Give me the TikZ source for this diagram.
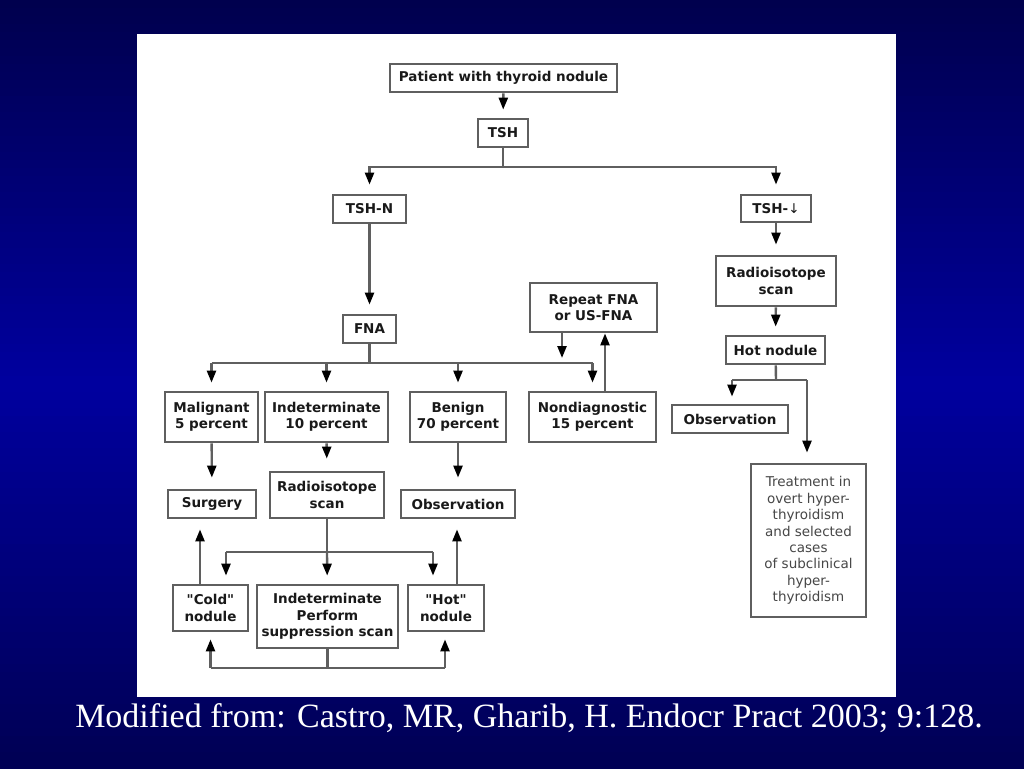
\documentclass[tikz,border=0pt]{standalone}
\usepackage{fontspec}
\usetikzlibrary{arrows.meta}
\newfontfamily\dvs{DejaVu Sans}
\newfontfamily\lserif{Liberation Serif}
\definecolor{bgtop}{RGB}{0,0,78}
\definecolor{bgmid}{RGB}{0,0,158}
\definecolor{bgbot}{RGB}{0,0,84}
\definecolor{edgegray}{RGB}{95,95,95}
\definecolor{txtgray}{RGB}{25,25,25}
\tikzset{
  box/.style={draw=edgegray, line width=2.8pt, rectangle, inner sep=0pt, align=center,
    font=\dvs\bfseries\fontsize{13.5}{16.5}\selectfont, text=txtgray},
  plainbox/.style={box, font=\dvs\fontsize{13.5}{16.4}\selectfont, text=black!72},
  conn/.style={draw=edgegray, line width=2.4pt},
  arr/.style={conn, -{Triangle[length=12pt,width=9pt,color=black]}, shorten >=8pt},
}
\begin{document}
\begin{tikzpicture}[x=1pt,y=-1pt]
\useasboundingbox (0,0) rectangle (1024,768);
% background gradient (dark - bright - dark), drawn as stripes
\foreach \i in {0,...,47}{
  \pgfmathtruncatemacro{\p}{round(\i*100/47)}
  \fill[bgmid!\p!bgtop] (0,{8*\i}) rectangle (1024,{8*\i+8.6});
}
\foreach \i in {0,...,47}{
  \pgfmathtruncatemacro{\p}{round(\i*100/47)}
  \fill[bgbot!\p!bgmid] (0,{384+8*\i}) rectangle (1024,{384+8*\i+8.6});
}
\fill[white] (137,34) rectangle (896,697);

% nodes
\node[box, minimum width=227pt, minimum height=28pt] (pat) at (503.5,78) {Patient with thyroid nodule};
\node[box, minimum width=50pt, minimum height=28pt] (tsh) at (503,133) {TSH};
\node[box, minimum width=73pt, minimum height=28pt] (tshn) at (369.5,209) {TSH-N};
\node[box, minimum width=70pt, minimum height=27pt] (tshd) at (776,208.5) {TSH-{\mdseries↓}};
\node[box, minimum width=53pt, minimum height=28pt] (fna) at (369.5,329) {FNA};
\node[box, minimum width=127pt, minimum height=49pt] (rep) at (593.5,307.5) {Repeat FNA\\or US-FNA};
\node[box, minimum width=93pt, minimum height=50pt] (mal) at (211.5,417) {Malignant\\5 percent};
\node[box, minimum width=123pt, minimum height=50pt] (ind) at (326.5,417) {Indeterminate\\10 percent};
\node[box, minimum width=96pt, minimum height=50pt] (ben) at (458,417) {Benign\\70 percent};
\node[box, minimum width=127pt, minimum height=50pt] (nd) at (592.5,417) {Nondiagnostic\\15 percent};
\node[box, minimum width=88pt, minimum height=28pt] (surg) at (212,504) {Surgery};
\node[box, minimum width=114pt, minimum height=46pt] (rad2) at (327,495) {Radioisotope\\scan};
\node[box, minimum width=114pt, minimum height=28pt] (obs2) at (458,504) {Observation};
\node[box, minimum width=75pt, minimum height=46pt] (cold) at (210.5,608) {"Cold"\\nodule};
\node[box, minimum width=141pt, minimum height=63pt] (ind2) at (327.5,616.5) {Indeterminate\\Perform\\suppression scan};
\node[box, minimum width=76pt, minimum height=46pt] (hot) at (446,608) {"Hot"\\nodule};
\node[box, minimum width=120pt, minimum height=50pt] (rad1) at (776,281) {Radioisotope\\scan};
\node[box, minimum width=99pt, minimum height=28pt] (hot1) at (775.5,350) {Hot nodule};
\node[box, minimum width=116pt, minimum height=28pt] (obs1) at (730,419) {Observation};
\node[plainbox, minimum width=115pt, minimum height=153pt] (treat) at (808.5,540.5) {Treatment in\\overt hyper-\\thyroidism\\and selected\\cases\\of subclinical\\hyper-\\thyroidism};

% caption
\node[anchor=base, text=white, font=\lserif\fontsize{34}{40}\selectfont, inner sep=0pt] (cap) at (529,727) {Modified from: Castro, MR, Gharib, H. Endocr Pract 2003; 9:128.};

% junction coordinates
\coordinate (j1) at (503,167);
\coordinate (j2) at (369.5,363);
\coordinate (j3) at (327,552);
\coordinate (jl) at (226,552);
\coordinate (jr) at (433,552);
\coordinate (jb) at (327.5,668);
\coordinate (jbl) at (210.5,668);
\coordinate (jbr) at (445,668);
\coordinate (jh) at (776,380);
\coordinate (jhl) at (732,380);
\coordinate (jhr) at (807,380);

% top
\draw[arr] (pat) -- (tsh);
\draw[conn] (tsh) -- (j1);
\draw[arr, shorten >=9pt] (j1) -| (tshn);
\draw[arr, shorten >=9pt] (j1) -| (tshd);
\draw[arr, shorten >=9pt] (tshn) -- (fna);

% FNA branch
\draw[conn] (fna) -- (j2);
\draw[conn] (j2 -| mal) -- (j2 -| nd);
\draw[arr] (j2 -| mal) -- (mal);
\draw[arr] (j2 -| ind) -- (ind);
\draw[arr] (j2 -| ben) -- (ben);
\draw[arr] (j2 -| nd) -- (nd);
\draw[arr, shorten >=5pt] ([xshift=-31.5pt]rep.south) -- ([xshift=-31.5pt]rep.south |- j2);
\draw[arr, shorten >=0pt] ([xshift=12.5pt]nd.north) -- ([xshift=11.5pt]rep.south);

% middle
\draw[arr, shorten >=11pt] (mal) -- (surg);
\draw[arr, shorten >=12pt] (ind) -- (rad2);
\draw[arr, shorten >=11pt] (ben) -- (obs2);

% radioisotope branch
\draw[conn] (rad2) -- (j3);
\draw[conn] (jl) -- (jr);
\draw[arr] (j3) -- (ind2);
\draw[arr] (jl) -- (jl |- cold.north);
\draw[arr] (jr) -- (jr |- hot.north);
\draw[arr, shorten >=10pt] ([xshift=-10.5pt]cold.north) -- ([xshift=-10.5pt]cold.north |- surg.south);
\draw[arr, shorten >=10pt] ([xshift=11pt]hot.north) -- ([xshift=11pt]hot.north |- obs2.south);

% bottom loop
\draw[conn] (ind2) -- (jb);
\draw[conn] (jbl) -- (jbr);
\draw[arr, shorten >=7pt] (jbl) -- (cold);
\draw[arr, shorten >=7pt] (jbr) -- (jbr |- hot.south);

% right side
\draw[arr, shorten >=10pt] (tshd) -- (rad1);
\draw[arr] (rad1) -- (hot1);
\draw[conn] (hot1) -- (jh);
\draw[conn] (jhl) -- (jhr);
\draw[arr, shorten >=7pt] (jhl) -- (jhl |- obs1.north);
\draw[arr, shorten >=10pt] (jhr) -- (jhr |- treat.north);
\end{tikzpicture}
\end{document}
